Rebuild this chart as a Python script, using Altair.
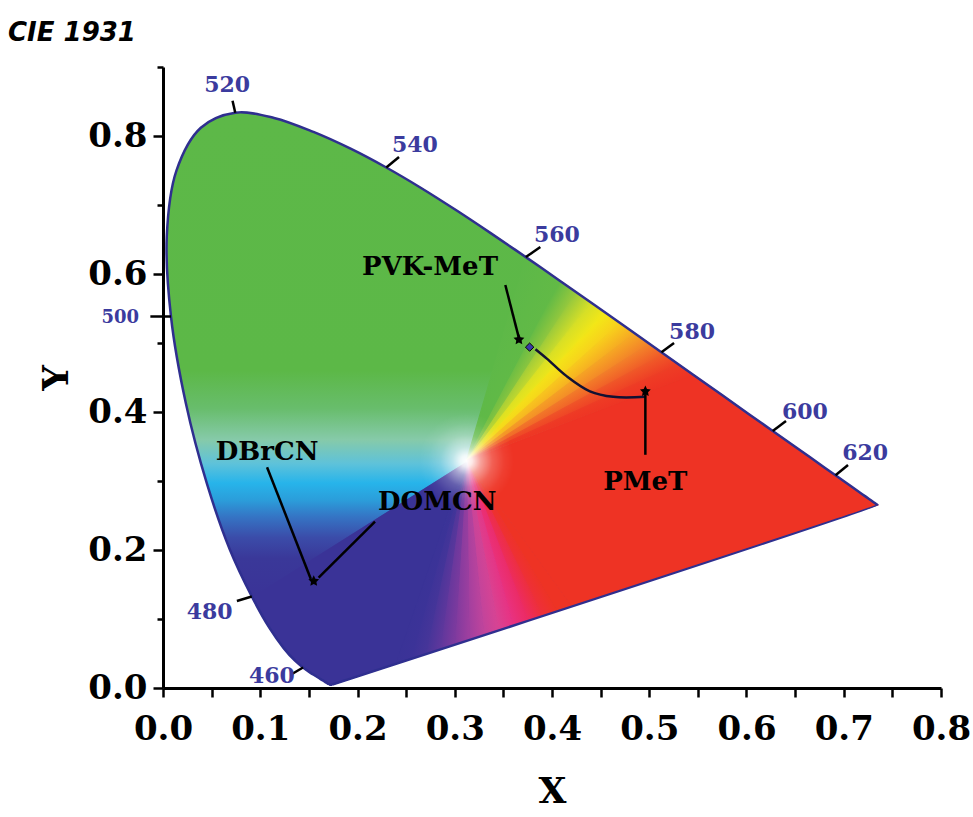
import math
import numpy as np
import altair as alt
import pandas as pd

# ---------------- data ----------------
# CIE 1931 2-degree spectral locus (chromaticity x, y)
wavelength = list(range(380, 705, 5))
locus_x = [0.1741, 0.1740, 0.1738, 0.1736, 0.1733, 0.1730, 0.1726, 0.1721, 0.1714, 0.1703,
           0.1689, 0.1669, 0.1644, 0.1611, 0.1566, 0.1510, 0.1440, 0.1355, 0.1241, 0.1096,
           0.0913, 0.0687, 0.0454, 0.0235, 0.0082, 0.0039, 0.0139, 0.0389, 0.0743, 0.1142,
           0.1547, 0.1929, 0.2296, 0.2658, 0.3016, 0.3373, 0.3731, 0.4087, 0.4441, 0.4788,
           0.5125, 0.5448, 0.5752, 0.6029, 0.6270, 0.6482, 0.6658, 0.6801, 0.6915, 0.7006,
           0.7079, 0.7140, 0.7190, 0.7230, 0.7260, 0.7283, 0.7300, 0.7311, 0.7320, 0.7327,
           0.7334, 0.7340, 0.7344, 0.7346, 0.7347]
locus_y = [0.0050, 0.0050, 0.0049, 0.0049, 0.0048, 0.0048, 0.0048, 0.0048, 0.0051, 0.0058,
           0.0069, 0.0086, 0.0109, 0.0138, 0.0177, 0.0227, 0.0297, 0.0399, 0.0578, 0.0868,
           0.1327, 0.2007, 0.2950, 0.4127, 0.5384, 0.6548, 0.7502, 0.8120, 0.8338, 0.8262,
           0.8059, 0.7816, 0.7543, 0.7243, 0.6923, 0.6589, 0.6245, 0.5896, 0.5547, 0.5202,
           0.4866, 0.4544, 0.4242, 0.3965, 0.3725, 0.3514, 0.3340, 0.3197, 0.3083, 0.2993,
           0.2920, 0.2859, 0.2809, 0.2770, 0.2740, 0.2717, 0.2700, 0.2689, 0.2680, 0.2673,
           0.2666, 0.2660, 0.2656, 0.2654, 0.2653]

white_x, white_y = 0.312, 0.329          # white point where the colour sectors meet

# colours
INDIGO = "#3a3397"
RED = "#ee3324"
GREEN = "#5db848"
# green -> yellow -> red transition: colour stops along the locus edge (by x)
yellow_stop_x = [0.3731, 0.4087, 0.425, 0.44, 0.455, 0.47, 0.485, 0.50, 0.515, 0.53, 0.5448]
yellow_col = [GREEN, "#62ba46", "#98c93c", "#d3de28", "#f3e717", "#f8cf1c", "#f6a923",
              "#f38229", "#f05a28", "#ee3d25", RED]
# line of purples: colour stops from indigo to red (by x)
purple_stop_x = [0.24, 0.255, 0.27, 0.285, 0.30, 0.315, 0.33, 0.345, 0.36, 0.375, 0.39, 0.405, 0.42]
purple_col = [INDIGO, "#3c3398", "#463599", "#5f379c", "#7e3a9e", "#a03f9f", "#c0449c",
              "#d84393", "#e83282", "#ec2b64", "#ee2f3a", RED, RED]
# blue -> cyan -> green band (by chromaticity y)
band_y = [0.8338, 0.46, 0.405, 0.36, 0.325, 0.297, 0.272, 0.248, 0.218, 0.188, 0.1327, 0.0048]
band_col = [GREEN, "#5cb847", "#68bd6c", "#86caa9", "#5ec2da", "#27b4ea", "#2b9dda",
            "#3574c4", "#3b4ca9", "#3a3899", INDIGO, INDIGO]

# wavelength annotations
wl_nm = [520, 540, 560, 580, 600, 620, 480, 460]
wl_text = ["520", "540", "560", "580", "600", "620", "480", "460"]
wl_label_x = [0.066, 0.259, 0.405, 0.544, 0.660, 0.722, 0.048, 0.112]
wl_label_y = [0.874, 0.787, 0.657, 0.516, 0.400, 0.341, 0.110, 0.017]
wl_tick_x = [0.0715, 0.2427, 0.388, 0.5255, 0.6406, 0.7044, 0.076, 0.1326]
wl_tick_y = [0.851, 0.7696, 0.639, 0.500, 0.387, 0.3232, 0.126, 0.0203]
wl500_label = ["500"]
wl500_label_x = [-0.044]
wl500_label_y = [0.536]
wl500_tick_x = [-0.013]

# sample names and leader lines
names = ["PVK-MeT", "PMeT", "DBrCN", "DOMCN"]
name_x = [0.2746, 0.496, 0.107, 0.282]
name_y = [0.610, 0.2986, 0.342, 0.270]
leader_x = [0.352, 0.496, 0.107, 0.218]
leader_y = [0.584, 0.338, 0.320, 0.241]
leader_x2 = [0.366, 0.496, 0.152, 0.160]
leader_y2 = [0.507, 0.426, 0.158, 0.160]

# CIE points
star_x = [0.496, 0.155, 0.366]
star_y = [0.430, 0.155, 0.505]
pvk_x = [0.377]
pvk_y = [0.494]

# connector from PMeT to PVK-MeT
curve_x = [0.496, 0.463, 0.439, 0.415, 0.395, 0.383]
curve_y = [0.422, 0.422, 0.430, 0.452, 0.477, 0.491]

# ---------------- helpers ----------------
idx = {w: i for i, w in enumerate(wavelength)}
W = (white_x, white_y)


def loc(w):
    return (locus_x[idx[w]], locus_y[idx[w]])


def seg(a, b):
    return [(locus_x[i], locus_y[i]) for i in range(idx[a], idx[b] + 1)]


def edge_pt(x, a=560, b=590):
    """Point on the locus edge between a and b nm at chromaticity x."""
    sx = locus_x[idx[a]: idx[b] + 1]
    sy = locus_y[idx[a]: idx[b] + 1]
    return (x, float(np.interp(x, sx, sy)))


def purple_pt(x):
    y = locus_y[0] + (x - locus_x[0]) * (locus_y[-1] - locus_y[0]) / (locus_x[-1] - locus_x[0])
    return (x, y)


def poly_df(points):
    return pd.DataFrame({"x": [p[0] for p in points],
                         "y": [p[1] for p in points],
                         "k": list(range(len(points)))})


xs = alt.Scale(domain=[0, 0.8], nice=False, zero=False)
ys = alt.Scale(domain=[0, 0.9], nice=False, zero=False)

x_axis = alt.Axis(
    values=[round(i * 0.05, 2) for i in range(17)],
    labelExpr="round(datum.value * 100) % 10 === 0 ? format(datum.value, '.1f') : ''",
    tickSize=9, labelPadding=15, labelFlush=False, labelOverlap=False, labelBound=False,
    titlePadding=28,
)
y_axis = alt.Axis(
    values=[round(i * 0.1, 1) for i in range(10)],
    labelExpr="round(datum.value * 10) % 2 === 0 ? format(datum.value, '.1f') : ''",
    tickSize={"condition": {"test": "round(datum.value * 10) % 2 === 0", "value": 10}, "value": 6},
    labelPadding=6, labelOverlap=False, titlePadding=12,
)

X = alt.X("x:Q", scale=xs, axis=x_axis, title="X")
Y = alt.Y("y:Q", scale=ys, axis=y_axis, title="Y")


def region(points, fill, interp="linear", sw=1.2):
    return alt.Chart(poly_df(points)).mark_line(
        filled=True, fill=fill, stroke=fill, strokeWidth=sw, interpolate=interp
    ).encode(x=X, y=Y, order=alt.Order("k:Q"))


def lin_grad(stops, x1, y1, x2, y2):
    return alt.LinearGradient(
        gradient="linear",
        stops=[alt.GradientStop(offset=float(min(max(o, 0), 1)), color=c) for o, c in stops],
        x1=x1, y1=y1, x2=x2, y2=y2)


def bbox(points):
    xsv = [p[0] for p in points]
    ysv = [p[1] for p in points]
    return min(xsv), max(xsv), min(ysv), max(ysv)


def vertical_grad(points):
    _, _, y0, y1 = bbox(points)
    return lin_grad([((y1 - yv) / (y1 - y0), c) for yv, c in zip(band_y, band_col)], 0, 0, 0, 1)


def fan_triangle(A, B, colA, colB):
    """Triangle W-A-B whose gradient runs across the angle at W (colA on WA, colB on WB)."""
    pts = [W, A, B]
    x0, x1, y0, y1 = bbox(pts)

    def tb(p):
        return ((p[0] - x0) / (x1 - x0), (y1 - p[1]) / (y1 - y0))

    wb, ab, bb = tb(W), tb(A), tb(B)

    def unit(v):
        n = math.hypot(v[0], v[1])
        return (v[0] / n, v[1] / n)

    da = unit((ab[0] - wb[0], ab[1] - wb[1]))
    db = unit((bb[0] - wb[0], bb[1] - wb[1]))
    d = unit((da[0] + db[0], da[1] + db[1]))
    n = (-d[1], d[0])
    ab_vec = (bb[0] - ab[0], bb[1] - ab[1])
    L = n[0] * ab_vec[0] + n[1] * ab_vec[1]
    if L < 0:
        n = (-n[0], -n[1])
        L = -L
    g = lin_grad([(0, colA), (1, colB)], ab[0], ab[1], ab[0] + n[0] * L, ab[1] + n[1] * L)
    return region(pts, g)


def fan(points, colours):
    return [fan_triangle(points[i], points[i + 1], colours[i], colours[i + 1])
            for i in range(len(points) - 1)]


# ---------------- colour regions ----------------
p_left = purple_pt(purple_stop_x[0])
p_right = purple_pt(purple_stop_x[-1])

full_pts = seg(380, 700) + [loc(380)]
indigo_pts = [W, p_left] + seg(380, 480)
bluegreen_pts = [W] + seg(480, 560)
red_pts = [W] + seg(585, 700) + [p_right]

layers = [
    region(full_pts, vertical_grad(full_pts), interp="catmull-rom", sw=0),
    region(indigo_pts, INDIGO),
    region(red_pts, RED),
    region(bluegreen_pts, vertical_grad(bluegreen_pts)),
]
layers += fan([edge_pt(x) for x in yellow_stop_x], yellow_col)
layers += fan([purple_pt(x) for x in purple_stop_x][::-1], purple_col[::-1])

# white glow at the white point
glow = alt.RadialGradient(
    gradient="radial",
    stops=[alt.GradientStop(offset=0, color="rgba(255,255,255,1)"),
           alt.GradientStop(offset=0.12, color="rgba(255,255,255,0.9)"),
           alt.GradientStop(offset=0.3, color="rgba(255,255,255,0.55)"),
           alt.GradientStop(offset=0.55, color="rgba(255,255,255,0.22)"),
           alt.GradientStop(offset=0.8, color="rgba(255,255,255,0.06)"),
           alt.GradientStop(offset=1, color="rgba(255,255,255,0)")],
    x1=0.5, y1=0.5, x2=0.5, y2=0.5, r1=0, r2=0.5)
layers.append(
    alt.Chart(pd.DataFrame({"x": [white_x], "y": [white_y]}))
    .mark_circle(size=9000, fill=glow, opacity=1, strokeWidth=0)
    .encode(x=X, y=Y)
)

# spectral locus outline (closed by the line of purples)
layers.append(
    alt.Chart(poly_df(full_pts)).mark_line(color="#2f2f8f", strokeWidth=2.5,
                                           interpolate="catmull-rom")
    .encode(x=X, y=Y, order=alt.Order("k:Q"))
)

# wavelength ticks and labels
wl_df = pd.DataFrame({
    "text": wl_text,
    "x": [loc(w)[0] for w in wl_nm], "y": [loc(w)[1] for w in wl_nm],
    "x2": wl_tick_x, "y2": wl_tick_y, "lx": wl_label_x, "ly": wl_label_y,
})
w500_df = pd.DataFrame({
    "text": wl500_label, "x": [loc(500)[0]], "y": [loc(500)[1]],
    "x2": wl500_tick_x, "y2": [loc(500)[1]], "lx": wl500_label_x, "ly": wl500_label_y,
})
for df in (wl_df, w500_df):
    layers.append(
        alt.Chart(df).mark_rule(color="black", strokeWidth=2.5)
        .encode(x=X, y=Y, x2="x2:Q", y2="y2:Q")
    )
for df, fs in ((wl_df, 22), (w500_df, 18)):
    layers.append(
        alt.Chart(df).mark_text(font="DejaVu Serif", fontWeight="bold", fontSize=fs,
                                color="#3b3b9e", align="center", baseline="middle")
        .encode(x=alt.X("lx:Q", scale=xs, axis=x_axis, title="X"),
                y=alt.Y("ly:Q", scale=ys, axis=y_axis, title="Y"), text="text:N")
    )

# connector curve PMeT -> PVK-MeT
layers.append(
    alt.Chart(poly_df(list(zip(curve_x, curve_y))))
    .mark_line(color="#111133", strokeWidth=2.5, interpolate="catmull-rom")
    .encode(x=X, y=Y, order=alt.Order("k:Q"))
)

# leader lines
lead_df = pd.DataFrame({"x": leader_x, "y": leader_y, "x2": leader_x2, "y2": leader_y2})
layers.append(
    alt.Chart(lead_df).mark_rule(color="black", strokeWidth=2.5)
    .encode(x=X, y=Y, x2="x2:Q", y2="y2:Q")
)

# markers
STAR = "M0,-1L0.29,-0.4L0.95,-0.31L0.47,0.15L0.59,0.81L0,0.5L-0.59,0.81L-0.47,0.15L-0.95,-0.31L-0.29,-0.4Z"
layers.append(
    alt.Chart(pd.DataFrame({"x": star_x, "y": star_y}))
    .mark_point(shape=STAR, filled=True, color="black", size=130, opacity=1)
    .encode(x=X, y=Y)
)
layers.append(
    alt.Chart(pd.DataFrame({"x": pvk_x, "y": pvk_y}))
    .mark_point(shape="diamond", filled=True, color="#3a3aa8", size=70, opacity=1,
                stroke="black", strokeWidth=1)
    .encode(x=X, y=Y)
)

# sample names
layers.append(
    alt.Chart(pd.DataFrame({"x": name_x, "y": name_y, "text": names}))
    .mark_text(font="DejaVu Serif", fontWeight="bold", fontSize=26, color="black",
               align="center", baseline="middle")
    .encode(x=X, y=Y, text="text:N")
)

chart = alt.layer(*layers).properties(
    width=778, height=621,
    title=alt.TitleParams(text="CIE 1931", anchor="start", frame="group", dx=-155, offset=4,
                          font="DejaVu Sans", fontSize=26, fontStyle="italic",
                          fontWeight="bold", color="black"),
    autosize=alt.AutoSizeParams(type="none"),
    padding={"left": 163, "top": 67, "right": 32, "bottom": 129},
).configure_axis(
    domainColor="black", domainWidth=3, tickColor="black", tickWidth=2.5, grid=False,
    labelFont="DejaVu Serif", labelFontWeight="bold", labelFontSize=34, labelColor="black",
    titleFont="DejaVu Serif", titleFontWeight="bold", titleFontSize=36, titleColor="black",
    zindex=1,
).configure_view(stroke="transparent")

chart.save("out.html", embed_options={"renderer": "svg", "actions": False})
